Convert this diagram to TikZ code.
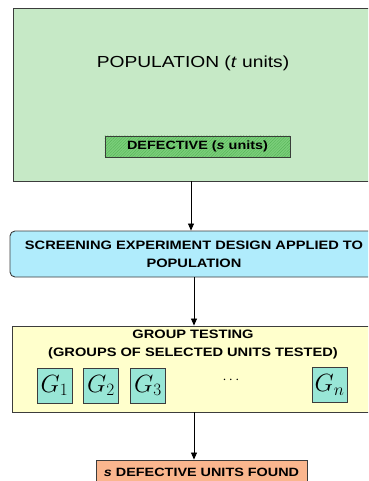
\documentclass[tikz,border=0pt]{standalone}
\usepackage{fontspec}
\setmainfont[FakeStretch=1.2]{Liberation Sans}
\usetikzlibrary{arrows.meta,positioning,patterns.meta}

\definecolor{popgreen}{RGB}{198,233,198}
\definecolor{defgreen}{RGB}{122,206,122}
\definecolor{screencyan}{RGB}{176,236,252}
\definecolor{testyellow}{RGB}{255,255,204}
\definecolor{groupteal}{RGB}{152,230,214}
\definecolor{foundorange}{RGB}{250,182,142}
\definecolor{edgegray}{RGB}{60,60,60}

\begin{document}
\begin{tikzpicture}[x=1pt,y=-1pt,
    box/.style={draw=edgegray,line width=0.9pt,inner sep=0pt},
    grp/.style={box,fill=groupteal,minimum width=35pt,minimum height=35pt,
      font=\fontsize{25}{27}\selectfont}]
    \useasboundingbox (0,0) rectangle (368,481);
    \clip (0,0) rectangle (368,481);

    \node[box,fill=popgreen,minimum width=356pt,minimum height=173pt] (pop) at (191,94.5) {};
    \node (popText) at (193,63) {\fontsize{16}{18}\selectfont POPULATION (\textit{t} units)};
    \node[box,fill=defgreen,minimum width=185pt,minimum height=21pt] (def) at (197.5,146.5) {};
    \fill[pattern={Lines[angle=45,distance=2pt,line width=0.25pt]},pattern color=green!45!black,opacity=0.35]
      (def.south west) rectangle (def.north east);
    \node at (def) {\fontsize{12}{13}\selectfont\bfseries DEFECTIVE (\textit{s} units)};

    \node[box,fill=screencyan,rounded corners=5pt,minimum width=368pt,minimum height=46pt,
      align=center,font=\fontsize{12.2}{18}\selectfont\bfseries] (screen) at (194,254)
      {SCREENING EXPERIMENT DESIGN APPLIED TO\\POPULATION};

    \node[box,fill=testyellow,minimum width=364pt,minimum height=86pt] (test) at (194,369) {};
    \node[align=center,font=\fontsize{12.2}{18}\selectfont\bfseries] (testText) at (193,344.5)
      {GROUP TESTING\\(GROUPS OF SELECTED UNITS TESTED)};
    \foreach \i/\x in {1/54.5,2/101,3/148}
      \node[grp] (G\i) at (\x,385.5) {$G_{\i}$};
    \node (dots) at (231,380) {\fontsize{14}{16}\selectfont$\cdots$};
    \node[grp] (Gn) at (329.5,385) {$G_n$};

    \node[box,fill=foundorange,minimum width=211pt,minimum height=24pt,
      font=\fontsize{12}{14}\selectfont\bfseries] (found) at (201.5,472)
      {\textit{s} DEFECTIVE UNITS FOUND};

    \tikzset{flowarrow/.style={-{Triangle[length=7pt,width=6pt]},line width=0.8pt}}
    \draw[flowarrow] (pop.south) -- (pop.south |- screen.north);
    \draw[flowarrow] (screen.south) -- (test.north);
    \draw[flowarrow] (test.south) -- (test.south |- found.north);
\end{tikzpicture}
\end{document}
